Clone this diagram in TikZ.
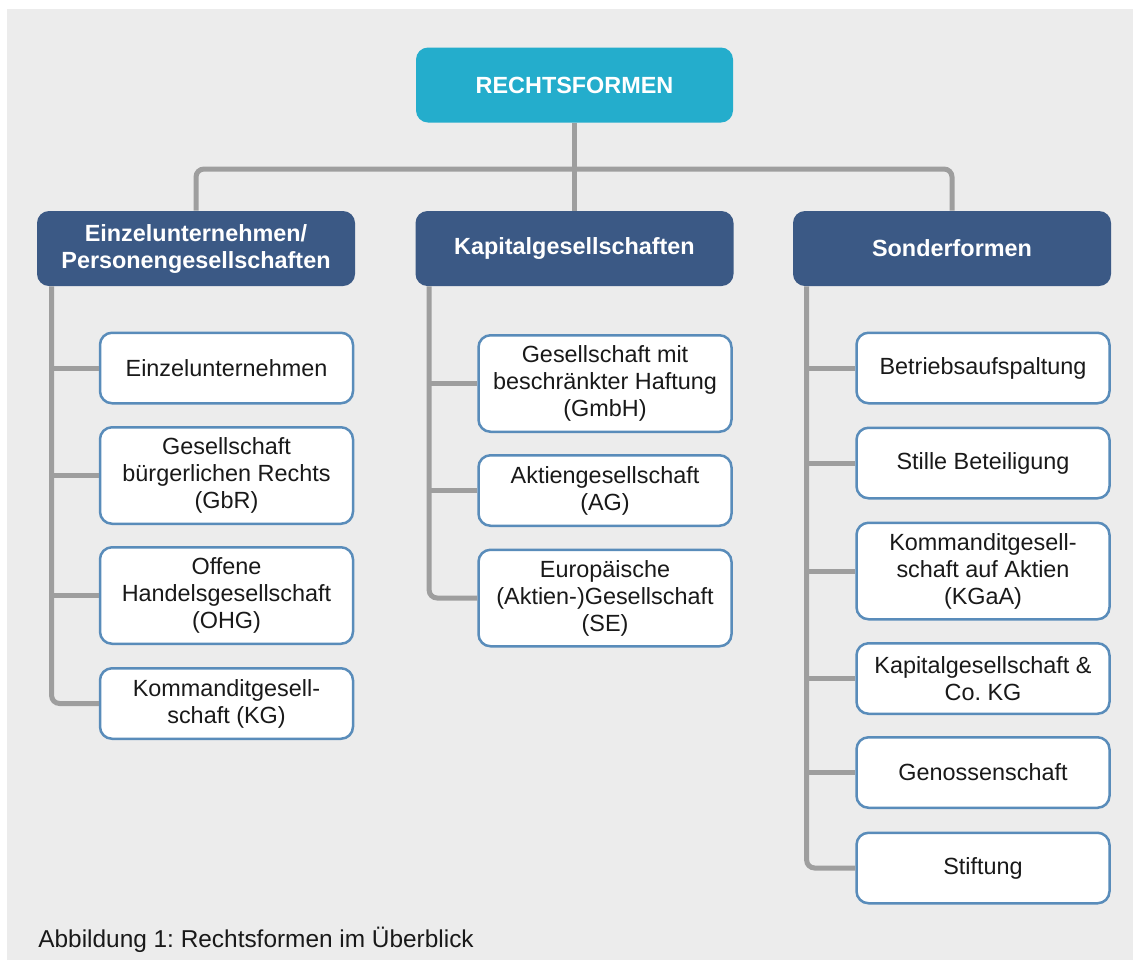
\documentclass[tikz,border=0pt]{standalone}
\usepackage{fontspec}
\setmainfont{Liberation Sans}
\definecolor{bggray}{rgb}{0.925,0.925,0.925}
\definecolor{rootcyan}{rgb}{0.14,0.68,0.80}
\definecolor{catblue}{rgb}{0.23,0.35,0.52}
\definecolor{boxedge}{rgb}{0.35,0.55,0.73}
\definecolor{linegray}{rgb}{0.62,0.62,0.62}
\newcommand{\boxfont}{\fontsize{11.7}{13.5}\selectfont}
\tikzset{
  rootbox/.style={rectangle, rounded corners=6pt, fill=rootcyan, text=white,
    font=\boxfont\bfseries, align=center, inner sep=0pt,
    minimum width=158.5pt, minimum height=37.5pt},
  catbox/.style={rootbox, fill=catblue, minimum width=159pt},
  itembox/.style={rectangle, rounded corners=6pt, draw=boxedge, line width=1.25pt,
    fill=white, text=black!90, font=\boxfont, align=center, inner sep=0pt,
    minimum width=126.5pt, minimum height=35.25pt},
  tallbox/.style={itembox, minimum height=48.25pt},
  conn/.style={draw=linegray, line width=2.5pt, rounded corners=4pt}
}

\begin{document}
\frenchspacing
\begin{tikzpicture}[x=0.5pt,y=-0.5pt]
  \useasboundingbox (0,0) rectangle (1133,960);
  \fill[bggray] (7,9) rectangle (1133,960);

  %% top
  \node[rootbox] (root) at (574.5,85) {RECHTSFORMEN};

  \node[catbox] (ecat) at (196,248.5) {Einzelunternehmen/\\Personengesellschaften};
  \node[catbox] (kcat) at (574.5,248.5) {Kapitalgesellschaften};
  \node[catbox] (scat) at (952,248.5) {Sonderformen};

  \coordinate (bus) at (574.5,169);
  \draw[conn] (ecat.north) |- (bus) -| (scat.north);
  \draw[conn] (root.south) -- (kcat.north);

  %% Einzelunternehmen / Personengesellschaften
  \node[itembox] (einz) at (226.5,368) {Einzelunternehmen};
  \node[tallbox] (gbr) at (226.5,475.5) {Gesellschaft\\bürgerlichen Rechts\\(GbR)};
  \node[tallbox] (ohg) at (226.5,595.5) {Offene\\Handelsgesellschaft\\(OHG)};
  \node[itembox] (kg) at (226.5,703.5) {Kommanditgesell-\\schaft (KG)};

  \coordinate (etrunk) at ([xshift=7.5pt]ecat.south west);
  \draw[conn] (etrunk) |- (kg.west);
  \foreach \n in {einz,gbr,ohg}
    \draw[conn] (\n.west) -- (\n.west -| etrunk);

  %% Kapitalgesellschaften
  \node[tallbox] (gmbh) at (605,383.5) {Gesellschaft mit\\beschränkter Haftung\\(GmbH)};
  \node[itembox] (ag) at (605,490.5) {Aktiengesellschaft\\(AG)};
  \node[tallbox] (se) at (605,598) {Europäische\\(Aktien-)Gesellschaft\\(SE)};

  \coordinate (ktrunk) at ([xshift=7pt]kcat.south west);
  \draw[conn] (ktrunk) |- (se.west);
  \foreach \n in {gmbh,ag}
    \draw[conn] (\n.west) -- (\n.west -| ktrunk);

  %% Sonderformen
  \node[itembox] (betr) at (983,368) {Betriebsaufspaltung};
  \node[itembox] (still) at (983,463) {Stille Beteiligung};
  \node[tallbox] (kgaa) at (983,571) {Kommanditgesell-\\schaft auf Aktien\\(KGaA)};
  \node[itembox] (kapco) at (983,678.5) {Kapitalgesellschaft \&\\Co. KG};
  \node[itembox] (geno) at (983,772.5) {Genossenschaft};
  \node[itembox] (stift) at (983,868) {Stiftung};

  \coordinate (strunk) at ([xshift=7pt]scat.south west);
  \draw[conn] (strunk) |- (stift.west);
  \foreach \n in {betr,still,kgaa,kapco,geno}
    \draw[conn] (\n.west) -- (\n.west -| strunk);

  \node[anchor=base west, inner sep=0pt, font=\fontsize{12.2}{14}\selectfont,
    text=black!90] (caption) at (38,947) {Abbildung 1: Rechtsformen im Überblick};
\end{tikzpicture}
\end{document}
